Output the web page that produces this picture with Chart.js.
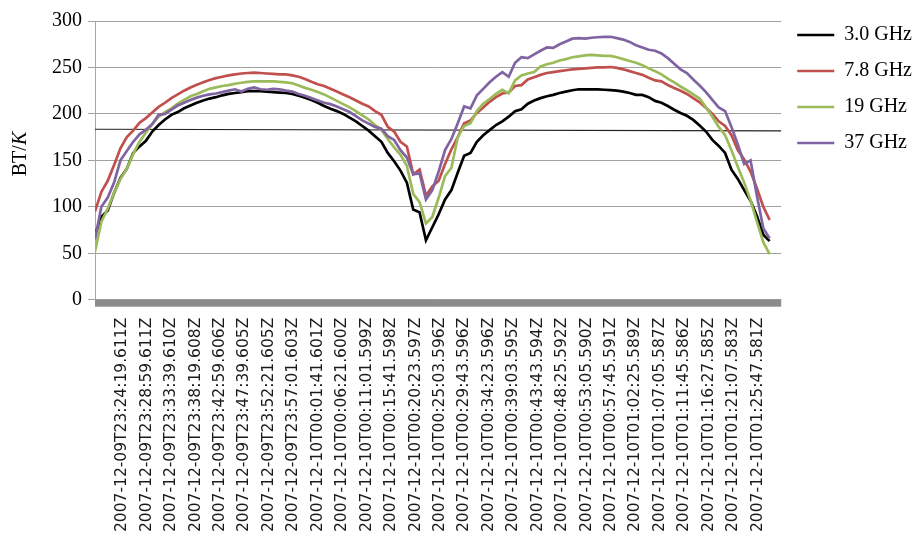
<!DOCTYPE html>
<html>
<head>
<meta charset="utf-8">
<script src="https://cdn.jsdelivr.net/npm/chart.js@4.4.0/dist/chart.umd.min.js"></script>
<style>
  html, body { margin: 0; padding: 0; background: #fff; }
  #wrap { width: 918px; height: 536px; }
</style>
</head>
<body>
<div id="wrap"><canvas id="bt-chart"></canvas></div>
<script>
const seriesNames = ['3.0 GHz', '7.8 GHz', '19 GHz', '37 GHz'];
const seriesColors = ['#000000', '#c0504d', '#9bbb59', '#8064a2'];

const tickLabels = [
  '2007-12-09T23:24:19.611Z', '2007-12-09T23:28:59.611Z', '2007-12-09T23:33:39.610Z',
  '2007-12-09T23:38:19.608Z', '2007-12-09T23:42:59.606Z', '2007-12-09T23:47:39.605Z',
  '2007-12-09T23:52:21.605Z', '2007-12-09T23:57:01.603Z', '2007-12-10T00:01:41.601Z',
  '2007-12-10T00:06:21.600Z', '2007-12-10T00:11:01.599Z', '2007-12-10T00:15:41.598Z',
  '2007-12-10T00:20:23.597Z', '2007-12-10T00:25:03.596Z', '2007-12-10T00:29:43.596Z',
  '2007-12-10T00:34:23.596Z', '2007-12-10T00:39:03.595Z', '2007-12-10T00:43:43.594Z',
  '2007-12-10T00:48:25.592Z', '2007-12-10T00:53:05.590Z', '2007-12-10T00:57:45.591Z',
  '2007-12-10T01:02:25.589Z', '2007-12-10T01:07:05.587Z', '2007-12-10T01:11:45.586Z',
  '2007-12-10T01:16:27.585Z', '2007-12-10T01:21:07.583Z', '2007-12-10T01:25:47.581Z'
];

// samples are taken every 73 s from sampleStart
const sampleStart = '2007-12-09T23:19:07Z';
const sampleStepSec = 73;
const axisEnd = '2007-12-10T01:30:18Z';

const bt3 = [
  70, 89, 96, 115, 131, 141, 158, 165, 171, 181,
  188, 194, 199, 202, 206, 209, 212, 214.5, 216.5, 218,
  220, 221.5, 222.5, 223.5, 224.5, 224.5, 224.5, 224, 223.5, 223,
  222.5, 221.5, 219.5, 217.5, 215, 212, 208.5, 205.5, 203, 200,
  196, 192, 187, 182, 176, 170, 158, 149, 139, 126,
  97, 94, 64, 78, 92, 108, 118, 137, 155, 158,
  170, 177, 182.5, 188, 192, 197, 203, 205, 211, 214.5,
  217, 219, 220.5, 222.5, 224, 225.5, 226.5, 226.5, 226.5, 226.5,
  226, 225.5, 225, 224, 222.5, 220.5, 220.5, 218, 214, 212,
  208.5, 204.5, 201, 198, 193.5, 187.5, 181, 172, 165.5, 158,
  140, 130, 118, 106.5, 90, 70, 63
];
const bt78 = [
  95, 116, 128, 145, 163, 175, 182, 190.5, 195.5, 201.5,
  207.5, 212, 217, 221, 225, 228.5, 231.5, 234, 236.5, 238.5,
  240, 241.5, 242.5, 243.5, 244, 244.5, 244, 243.5, 243, 242.5,
  242.5, 241.5, 240, 237.5, 234.5, 232, 230, 227, 224, 221,
  218, 214.5, 211, 208, 203, 199, 186, 181, 170, 165,
  135, 140, 112, 122, 128, 146, 162, 175, 190, 193,
  201, 207, 213, 218, 222, 223, 230, 231, 237, 239.5,
  242, 244, 245, 246, 247, 248, 248.5, 249, 249.5, 250,
  250, 250.5, 249.5, 248, 246, 244, 242, 239, 236, 235,
  231, 228, 225, 221.5, 217, 212.5, 206.5, 200, 192, 187,
  177, 161, 151, 138, 120, 100, 86
];
const bt19 = [
  52, 84, 98, 115, 130, 141, 157, 170, 180, 189,
  197, 202, 206, 211, 215, 219, 221.5, 224.5, 227, 228.5,
  230, 231, 232.5, 233.5, 234.5, 235, 235, 235, 235, 234.5,
  234, 233, 230.5, 228, 226, 223.5, 221, 217.5, 214, 210.5,
  207, 203, 198.5, 194, 188, 183, 173, 164, 156, 144,
  114, 105, 82, 89, 110, 133, 142, 175, 187, 190,
  203, 211, 216, 221.5, 226, 222, 236, 241.5, 243.5, 245,
  251, 253.5, 255, 257.5, 259, 261, 262, 263, 263.5, 263,
  262.5, 262.5, 261, 259, 257, 255, 252.5, 249, 246, 242.5,
  238, 234, 229.5, 225.5, 221, 216.5, 207, 197, 186, 177,
  161, 143, 126, 107, 84, 62, 49
];
const bt37 = [
  65, 100, 110, 126, 150, 160, 170, 178, 183, 189,
  199, 200, 204.5, 209, 212, 215, 217.5, 219.5, 221, 222,
  223.5, 225, 226.5, 224, 227, 228.5, 226.5, 226, 227, 226.5,
  225, 224, 221.5, 219.5, 217, 214.5, 212, 210.5, 208, 205,
  202, 197.5, 193, 189.5, 186, 184, 176, 172, 161, 153,
  135, 136, 108, 118, 138, 161, 173, 190, 208, 206,
  220, 227, 234, 240, 245, 240, 255, 261, 260, 264,
  268, 271.5, 271, 275, 278, 281, 281.5, 281, 282, 282.5,
  283, 283, 281.5, 280, 277.5, 274, 271.5, 269, 268, 265,
  260, 254, 248, 244, 237, 230.5, 223.5, 215, 207, 203,
  186, 167, 146, 150, 112, 77, 66
];
// thin reference line across the plot (left value, right value)
const refLine = [183.5, 181.7];

const t0 = Date.parse(sampleStart);
const tEnd = Date.parse(axisEnd);
const toPoints = (arr) => arr.map((v, i) => ({ x: t0 + i * sampleStepSec * 1000, y: v }));

const seriesData = [bt3, bt78, bt19, bt37];
const datasets = seriesData.map((arr, k) => ({
  label: seriesNames[k],
  data: toPoints(arr),
  borderColor: seriesColors[k],
  backgroundColor: seriesColors[k],
  borderWidth: 2.7,
  pointRadius: 0,
  tension: 0,
  order: 3 - k, // 37 GHz drawn on top
}));
datasets.push({
  label: 'ref',
  data: [{ x: t0, y: refLine[0] }, { x: tEnd, y: refLine[1] }],
  borderColor: '#222',
  borderWidth: 1.2,
  pointRadius: 0,
  order: 10,
});

const yTitlePlugin = {
  id: 'yTitle',
  afterDraw(chart) {
    const ctx = chart.ctx;
    ctx.save();
    ctx.translate(21, 154);
    ctx.rotate(-Math.PI / 2);
    ctx.textBaseline = 'middle';
    ctx.textAlign = 'left';
    ctx.fillStyle = '#000';
    ctx.font = '20px "Liberation Serif"';
    const wa = ctx.measureText('BT/').width;
    ctx.font = 'italic 20px "Liberation Serif"';
    const wb = ctx.measureText('K').width;
    const x = -(wa + wb) / 2;
    ctx.font = '20px "Liberation Serif"';
    ctx.fillText('BT/', x, 0);
    ctx.font = 'italic 20px "Liberation Serif"';
    ctx.fillText('K', x + wa, 0);
    ctx.restore();
  }
};

// thick grey band under the plot, like the original axis
const axisBarPlugin = {
  id: 'axisBar',
  afterDatasetsDraw(chart) {
    const { ctx, chartArea } = chart;
    ctx.save();
    ctx.fillStyle = '#8c8c8c';
    ctx.fillRect(chartArea.left, chartArea.bottom, chartArea.right - chartArea.left, 7);
    ctx.restore();
  }
};

const ctx = document.getElementById('bt-chart').getContext('2d');
new Chart(ctx, {
  type: 'line',
  data: { datasets: datasets },
  options: {
    responsive: true,
    maintainAspectRatio: false,
    animation: false,
    layout: { padding: { left: 46, right: -4, top: 9, bottom: -14 } },
    plugins: {
      legend: {
        position: 'right',
        align: 'start',
        labels: {
          font: { family: 'Liberation Serif', size: 20 },
          color: '#000',
          usePointStyle: true,
          pointStyle: 'line',
          pointStyleWidth: 37,
          padding: 16,
          filter: (item) => item.datasetIndex < 4,
          sort: (a, b) => a.datasetIndex - b.datasetIndex,
        },
      },
      tooltip: { enabled: false },
    },
    scales: {
      x: {
        type: 'linear',
        min: t0,
        max: tEnd,
        grid: { display: false, drawTicks: false },
        border: { display: false },
        afterBuildTicks: (axis) => {
          axis.ticks = tickLabels.map((s) => ({ value: Date.parse(s) }));
        },
        ticks: {
          autoSkip: false,
          minRotation: 90,
          maxRotation: 90,
          padding: 18,
          color: '#1a1a1a',
          font: { family: 'DejaVu Sans', size: 15.5 },
          callback: (v) => new Date(v).toISOString(),
        },
      },
      y: {
        min: 0,
        max: 300,
        ticks: {
          stepSize: 50,
          padding: 6,
          color: '#000',
          font: { family: 'Liberation Serif', size: 20, lineHeight: 1.5 },
        },
        grid: { color: '#a0a0a0', tickLength: 7 },
        border: { color: '#a6a6a6' },
      },
    },
  },
  plugins: [yTitlePlugin, axisBarPlugin],
});
</script>
</body>
</html>
